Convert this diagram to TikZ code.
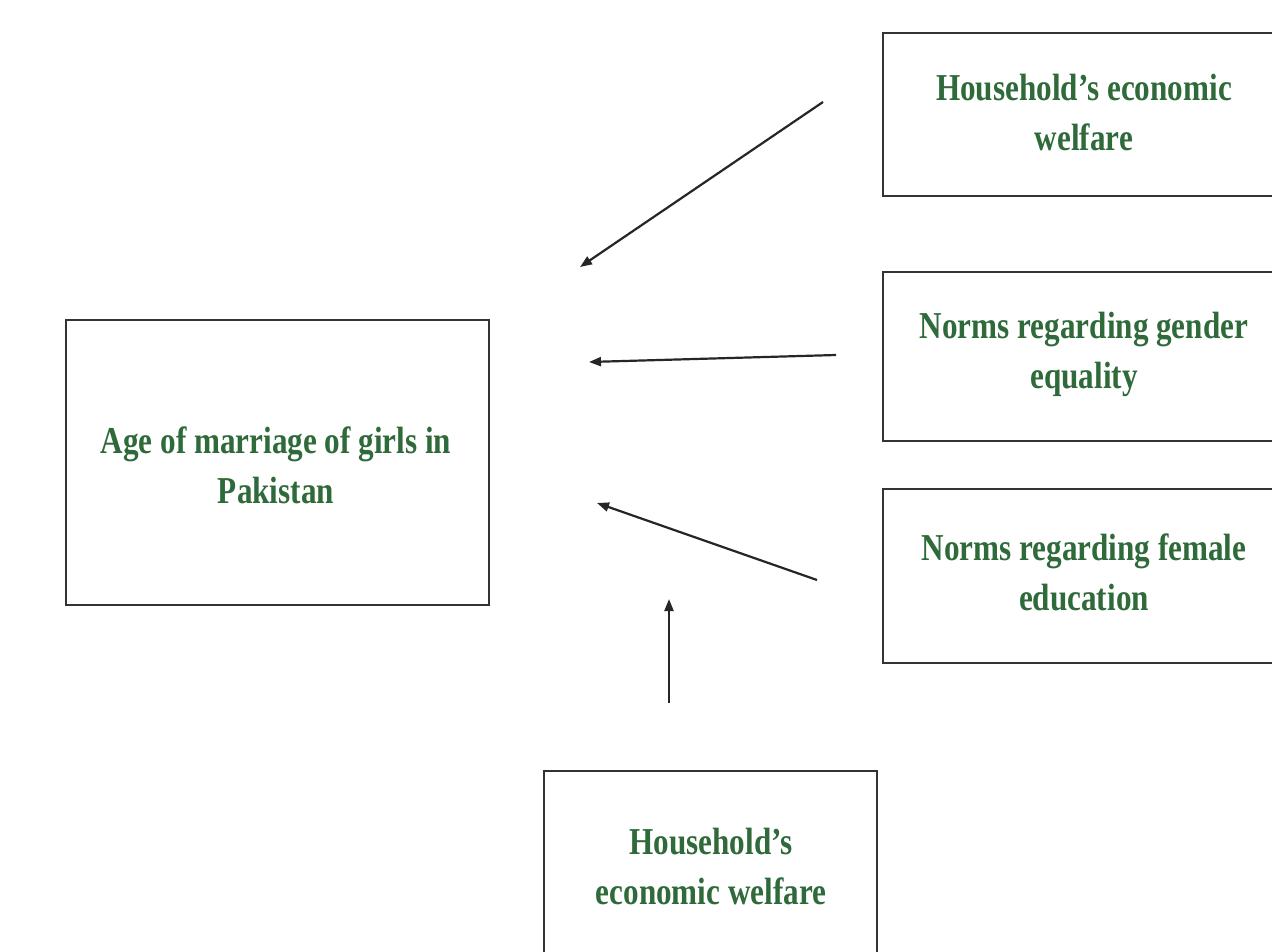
\documentclass[tikz,border=0pt]{standalone}
\usepackage{fontspec}
\setmainfont{Liberation Serif}[FakeStretch=0.82]
\usetikzlibrary{arrows.meta}
\definecolor{txtgreen}{HTML}{2F6A3A}
\definecolor{boxline}{HTML}{333333}
\tikzset{
  box/.style={draw=boxline, line width=2.2pt, rectangle, inner sep=0pt},
  lbl/.style={text=txtgreen, font=\fontsize{38}{50}\selectfont\bfseries, align=center, inner sep=0pt},
  arr/.style={draw=black!85, line width=2.2pt, -{Triangle[length=12pt,width=9pt]}}
}
\begin{document}
\begin{tikzpicture}[x=1pt,y=-1pt]
\useasboundingbox (0,0) rectangle (1272,952);
\clip (0,0) rectangle (1272,952);
\fill[white] (0,0) rectangle (1272,952);
% boxes
\node[box, minimum width=423pt, minimum height=285pt] (age) at (277.5,462.5) {};
\node[box, minimum width=404pt, minimum height=163pt] (hh1) at (1085,114.5) {};
\node[box, minimum width=404pt, minimum height=169pt] (gen) at (1085,356.5) {};
\node[box, minimum width=404pt, minimum height=174pt] (edu) at (1085,576) {};
\node[box, minimum width=333pt, minimum height=200pt] (hh2) at (710.5,871) {};
% labels
\node[lbl] (tage) at (276,465) {Age of marriage of girls in\\Pakistan};
\node[lbl] (thh1) at (1084,112.5) {Household's economic\\welfare};
\node[lbl] (tgen) at (1084,354) {Norms regarding gender\\equality};
\node[lbl] (tedu) at (1084,572.5) {Norms regarding female\\education};
\node[lbl] (thh2) at (711,866) {Household's\\economic welfare};
% arrow endpoints
\coordinate (a1s) at (823,102);
\coordinate (a1e) at (580,267);
\coordinate (a2s) at (836,355);
\coordinate (a2e) at (589,362);
\coordinate (a3s) at (817,580);
\coordinate (a3e) at (597,503);
\coordinate (a4s) at (669,703);
\coordinate (a4e) at (669,599);
\draw[arr] (a1s) -- (a1e);
\draw[arr] (a2s) -- (a2e);
\draw[arr] (a3s) -- (a3e);
\draw[arr] (a4s) -- (a4e);
\end{tikzpicture}
\end{document}
